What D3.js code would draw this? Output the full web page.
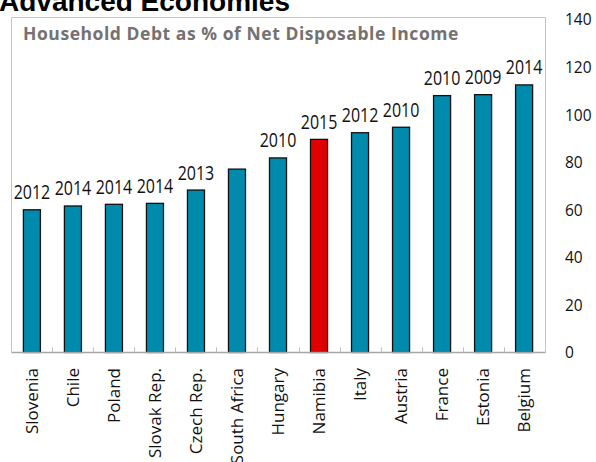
<!DOCTYPE html>
<html>
<head>
<meta charset="utf-8">
<script src="https://cdn.jsdelivr.net/npm/d3@7"></script>
<style>
  html, body { margin: 0; padding: 0; background: #fff; }
  svg { display: block; }
</style>
</head>
<body>
<svg id="chart" width="596" height="462"></svg>
<script>
// Household debt, % of net disposable income
const countries = ["Slovenia", "Chile", "Poland", "Slovak Rep.", "Czech Rep.", "South Africa",
  "Hungary", "Namibia", "Italy", "Austria", "France", "Estonia", "Belgium"];
const debtRatio = [60, 61.6, 62.3, 62.7, 68.3, 77.1, 81.8, 89.6, 92.4, 94.7, 108, 108.4, 112.5];
const dataYears = ["2012", "2014", "2014", "2014", "2013", null, "2010", "2015", "2012", "2010", "2010", "2009", "2014"];
const yTicks = [0, 20, 40, 60, 80, 100, 120, 140];
const highlight = "Namibia";

const svg = d3.select("#chart");
const font = "'Open Sans', 'Noto Sans', sans-serif";

const x = d3.scaleBand().domain(countries).range([11.5, 544.5]).paddingInner(0.585).paddingOuter(0.29);
const y = d3.scaleLinear().domain([0, 140]).range([352.5, 19.5]);

// Heading above the panel (runs off the top edge)
svg.append("text")
  .attr("x", -1).attr("y", 11)
  .attr("font-family", "'Liberation Sans', Arial, sans-serif")
  .attr("font-weight", "bold").attr("font-size", 28)
  .attr("fill", "#000")
  .text("Advanced Economies");

// Panel frame
svg.append("path")
  .attr("d", "M11.5,352.5V17.5H545.5V352.5")
  .attr("fill", "none").attr("stroke", "#c4c4c4").attr("stroke-width", 1);

svg.append("text")
  .attr("x", 23).attr("y", 40)
  .attr("font-family", font).attr("font-weight", "bold").attr("font-size", 17.5)
  .attr("letter-spacing", 0.55)
  .attr("fill", "#767171")
  .text("Household Debt as % of Net Disposable Income");

// Bars
svg.append("g").selectAll("rect")
  .data(countries)
  .join("rect")
  .attr("x", d => x(d))
  .attr("width", x.bandwidth())
  .attr("y", (d, i) => y(debtRatio[i]))
  .attr("height", (d, i) => y(0) - y(debtRatio[i]))
  .attr("fill", d => d === highlight ? "#e00000" : "#008aab")
  .attr("stroke", "#111").attr("stroke-width", 1.3);

// Year labels above bars
svg.append("g").selectAll("text")
  .data(countries.map((c, i) => ({ c, v: debtRatio[i], yr: dataYears[i] })).filter(d => d.yr))
  .join("text")
  .attr("transform", d => `translate(${x(d.c) + x.bandwidth() / 2},${y(d.v) - 10.5}) scale(1,1.2)`)
  .attr("text-anchor", "middle")
  .attr("font-family", font).attr("font-size", 16)
  .attr("fill", "#111")
  .text(d => d.yr);

// Category axis
const xAxis = svg.append("g").attr("transform", `translate(0,${y(0)})`);
xAxis.append("line")
  .attr("x1", 11.5).attr("x2", 545.5)
  .attr("stroke", "#a6a6a6").attr("stroke-width", 1.5);
const gap = (x.step() - x.bandwidth()) / 2;
xAxis.selectAll("line.tick")
  .data(countries.slice(1))
  .join("line")
  .attr("class", "tick")
  .attr("x1", d => Math.round(x(d) - gap) + 0.5)
  .attr("x2", d => Math.round(x(d) - gap) + 0.5)
  .attr("y1", 0).attr("y2", -5)
  .attr("stroke", "#bdbdbd");
xAxis.selectAll("text")
  .data(countries)
  .join("text")
  .attr("transform", d => `translate(${x(d) + x.bandwidth() / 2 + 6},15.5) rotate(-90)`)
  .attr("text-anchor", "end")
  .attr("font-family", font).attr("font-size", 17)
  .attr("fill", "#111")
  .text(d => d);

// Value axis on the right
const yAxis = d3.axisRight(y).tickValues(yTicks).tickSize(0).tickPadding(0);
svg.append("g")
  .attr("transform", "translate(565,0)")
  .call(yAxis)
  .call(g => g.select(".domain").remove())
  .call(g => g.selectAll("text")
    .attr("font-family", font).attr("font-size", 15.5)
    .attr("fill", "#111").attr("dy", "0.35em"));
</script>
</body>
</html>
